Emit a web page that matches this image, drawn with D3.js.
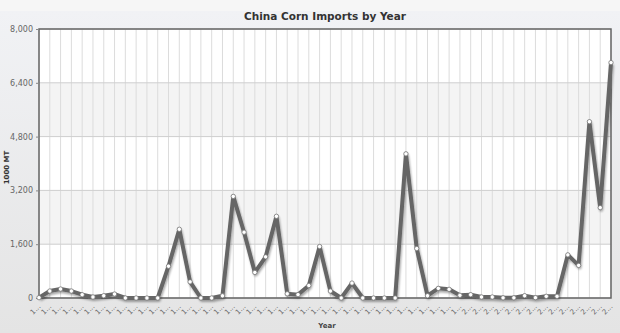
<!DOCTYPE html>
<html>
<head>
<meta charset="utf-8">
<script src="https://cdn.jsdelivr.net/npm/d3@7"></script>
<style>
  html, body { margin: 0; padding: 0; }
  body { width: 620px; height: 333px; overflow: hidden; font-family: "DejaVu Sans", Verdana, sans-serif; }
</style>
</head>
<body>
<div id="chart"></div>
<script>
// marketing years 1960/1961 .. 2013/2014
const years = d3.range(1960, 2014).map(y => `${y}/${y + 1}`);
const imports = [
  10, 207, 267, 207, 98, 30, 68, 118, 0, 0,
  0, 0, 945, 2044, 480, 0, 0, 65, 3022, 1956,
  761, 1224, 2430, 125, 100, 370, 1530, 207, 0, 444,
  0, 0, 0, 0, 4287, 1472, 68, 287, 258, 80,
  98, 30, 30, 5, 5, 68, 10, 50, 50, 1283,
  969, 5244, 2687, 7001
];
const yTicks = [0, 1600, 3200, 4800, 6400, 8000];

const width = 620;
const height = 333;
const margin = { top: 29, right: 9, bottom: 35, left: 39 };

const svg = d3.select("#chart")
  .append("svg")
  .attr("width", width)
  .attr("height", height);

const defs = svg.append("defs");
const bg = defs.append("linearGradient")
  .attr("id", "bg")
  .attr("x1", 0).attr("y1", 0).attr("x2", 0).attr("y2", 1);
bg.append("stop").attr("offset", "0%").attr("stop-color", "#f1f2f5");
bg.append("stop").attr("offset", "100%").attr("stop-color", "#e4e4e4");

const shadow = defs.append("filter").attr("id", "shadow")
  .attr("x", "-5%").attr("y", "-5%").attr("width", "110%").attr("height", "120%");
shadow.append("feGaussianBlur").attr("in", "SourceAlpha").attr("stdDeviation", 1.2);
shadow.append("feOffset").attr("dx", 1).attr("dy", 1.5).attr("result", "b");
shadow.append("feComponentTransfer").append("feFuncA").attr("type", "linear").attr("slope", 0.35);
const merge = shadow.append("feMerge");
merge.append("feMergeNode");
merge.append("feMergeNode").attr("in", "SourceGraphic");

svg.append("rect").attr("width", width).attr("height", height).attr("fill", "#f6f6f6");
svg.append("rect").attr("y", 11).attr("width", width).attr("height", height - 11).attr("fill", "url(#bg)");

const x = d3.scalePoint()
  .domain(years)
  .range([margin.left, width - margin.right]);

const y = d3.scaleLinear()
  .domain([0, 8000])
  .range([height - margin.bottom, margin.top]);

// alternating bands
svg.append("g")
  .selectAll("rect")
  .data(d3.pairs(yTicks))
  .join("rect")
  .attr("x", margin.left)
  .attr("width", width - margin.left - margin.right)
  .attr("y", d => y(d[1]))
  .attr("height", d => y(d[0]) - y(d[1]))
  .attr("fill", (d, i) => i % 2 ? "#f4f4f4" : "#ffffff");

// vertical grid
svg.append("g")
  .selectAll("line")
  .data(years)
  .join("line")
  .attr("x1", d => x(d)).attr("x2", d => x(d))
  .attr("y1", margin.top).attr("y2", height - margin.bottom)
  .attr("stroke", "#dcdcdc")
  .attr("stroke-width", 1);

// horizontal grid
svg.append("g")
  .selectAll("line")
  .data(yTicks)
  .join("line")
  .attr("x1", margin.left).attr("x2", width - margin.right)
  .attr("y1", d => y(d)).attr("y2", d => y(d))
  .attr("stroke", "#cfcfcf");

// frame
svg.append("rect")
  .attr("x", margin.left)
  .attr("y", margin.top)
  .attr("width", width - margin.left - margin.right)
  .attr("height", height - margin.top - margin.bottom)
  .attr("fill", "none")
  .attr("stroke", "#666")
  .attr("stroke-width", 1.5);

const yAxis = g =>
  g.attr("transform", `translate(${margin.left},0)`)
    .call(d3.axisLeft(y).tickValues(yTicks).tickFormat(d3.format(",")).tickSize(3))
    .call(g => g.select(".domain").remove())
    .call(g => g.selectAll("line").attr("stroke", "#888"))
    .call(g => g.selectAll("text")
      .attr("fill", "#666")
      .attr("font-size", 8)
      .attr("font-family", "Verdana, 'DejaVu Sans', sans-serif"));

svg.append("g").call(yAxis);

// x labels, truncated like the original
svg.append("g")
  .selectAll("text")
  .data(years)
  .join("text")
  .attr("transform", d => `translate(${x(d) + 2},${height - margin.bottom + 9}) rotate(-45)`)
  .attr("text-anchor", "end")
  .attr("font-size", 7)
  .attr("fill", "#666")
  .text(d => d.charAt(0) + "...");

const line = d3.line()
  .x((d, i) => x(years[i]))
  .y(d => y(d));

svg.append("path")
  .datum(imports)
  .attr("fill", "none")
  .attr("stroke", "#666")
  .attr("stroke-width", 4)
  .attr("stroke-linejoin", "round")
  .attr("filter", "url(#shadow)")
  .attr("d", line);

svg.append("g")
  .selectAll("circle")
  .data(imports)
  .join("circle")
  .attr("cx", (d, i) => x(years[i]))
  .attr("cy", d => y(d))
  .attr("r", 2.2)
  .attr("fill", "#fff")
  .attr("stroke", "#777")
  .attr("stroke-width", 0.8);

svg.append("text")
  .attr("x", 325).attr("y", 20)
  .attr("text-anchor", "middle")
  .attr("font-size", 10.5)
  .attr("font-weight", "bold")
  .attr("fill", "#333")
  .text("China Corn Imports by Year");

svg.append("text")
  .attr("transform", `translate(9,${(margin.top + height - margin.bottom) / 2 + 4}) rotate(-90)`)
  .attr("text-anchor", "middle")
  .attr("font-size", 7)
  .attr("font-weight", "bold")
  .attr("fill", "#333")
  .text("1000 MT");

svg.append("text")
  .attr("x", 327).attr("y", 328)
  .attr("text-anchor", "middle")
  .attr("font-size", 7)
  .attr("font-weight", "bold")
  .attr("fill", "#444")
  .text("Year");
</script>
</body>
</html>
